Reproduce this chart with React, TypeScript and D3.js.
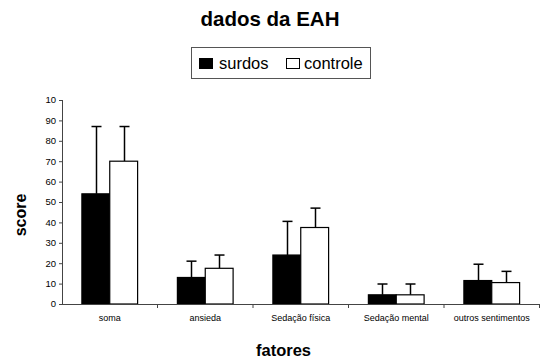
import React from 'react';
import * as d3 from 'd3';

const categories = ['soma', 'ansieda', 'Sedação física', 'Sedação mental', 'outros sentimentos'];
const seriesNames = ['surdos', 'controle'];
const surdos = [54, 13, 24, 4.5, 11.5];
const surdosErr = [33, 8, 16.5, 5.3, 8];
const controle = [70, 17.5, 37.5, 4.5, 10.5];
const controleErr = [17, 6.5, 9.5, 5.3, 5.5];
const yTicks = [0, 10, 20, 30, 40, 50, 60, 70, 80, 90, 100];
const yTickLabels = ['0', '10', '20', '30', '40', '50', '60', '70', '80', '90', '10'];

const W = 541;
const H = 363;
const margin = { left: 62, right: 0, top: 100, bottom: 59 };

const App = () => {
  const x0 = d3.scaleBand<string>()
    .domain(categories)
    .range([margin.left, 539.5])
    .paddingInner(0)
    .paddingOuter(0);
  // two bars per group, ~20px gap on each side
  const x1 = d3.scaleBand<string>()
    .domain(seriesNames)
    .range([0, x0.bandwidth()])
    .paddingOuter(0.714)
    .paddingInner(0);
  const y = d3.scaleLinear().domain([0, 100]).range([H - margin.bottom, margin.top]);

  const series = [
    { name: 'surdos', values: surdos, err: surdosErr, fill: '#000' },
    { name: 'controle', values: controle, err: controleErr, fill: '#fff' },
  ];

  const font = 'Arial, "Liberation Sans", sans-serif';
  const y0 = y(0);

  return (
    <svg width={W} height={H} style={{ position: 'absolute', left: 0, top: 0, background: '#fff' }} fontFamily={font}>
      <text x={270} y={26} textAnchor="middle" fontSize={20.5} fontWeight="bold">dados da EAH</text>

      {/* legend */}
      <rect x={191.5} y={47.5} width={179} height={31} fill="#fff" stroke="#555" strokeWidth={1} />
      <rect x={199.5} y={58.5} width={13} height={10} fill="#000" stroke="#000" />
      <text x={219} y={68.5} fontSize={16.5}>surdos</text>
      <rect x={286.5} y={58.5} width={13} height={10} fill="#fff" stroke="#000" />
      <text x={304} y={68.5} fontSize={16.5}>controle</text>

      {/* y axis */}
      <line x1={margin.left + 0.5} x2={margin.left + 0.5} y1={y(100)} y2={y0} stroke="#444" />
      {yTicks.map((t, i) => (
        <g key={t}>
          <line x1={margin.left - 3} x2={margin.left} y1={y(t) + 0.5} y2={y(t) + 0.5} stroke="#444" />
          <text x={56} y={y(t)} dy="0.35em" textAnchor="end" fontSize={9.5}>{yTickLabels[i]}</text>
        </g>
      ))}
      <text transform={`translate(26,215) rotate(-90)`} textAnchor="middle" fontSize={16} fontWeight="bold">score</text>

      {/* bars */}
      {series.map(s => (
        <g key={s.name}>
          {categories.map((c, i) => {
            const bx = (x0(c) as number) + (x1(s.name) as number);
            const bw = x1.bandwidth();
            const cx = Math.round(bx + bw / 2) + 0.5;
            const top = y(s.values[i]);
            const etop = y(s.values[i] + s.err[i]);
            return (
              <g key={c}>
                <line x1={cx} x2={cx} y1={etop} y2={top} stroke="#000" strokeWidth={1.5} />
                <line x1={cx - 5} x2={cx + 5} y1={etop} y2={etop} stroke="#000" strokeWidth={1.5} />
                <rect x={bx} y={top} width={bw} height={y0 - top} fill={s.fill} stroke="#000" strokeWidth={1.2} />
              </g>
            );
          })}
        </g>
      ))}

      {/* x axis */}
      <line x1={margin.left} x2={539.5} y1={y0 + 0.5} y2={y0 + 0.5} stroke="#444" />
      {categories.map((c, i) => (
        <g key={c}>
          <line x1={(x0(c) as number) + x0.bandwidth()} x2={(x0(c) as number) + x0.bandwidth()} y1={y0} y2={y0 + 4} stroke="#444" />
          <text x={(x0(c) as number) + x0.bandwidth() / 2} y={321} textAnchor="middle" fontSize={9}>{c}</text>
        </g>
      ))}
      <text x={283.5} y={356} textAnchor="middle" fontSize={16.5} fontWeight="bold">fatores</text>
    </svg>
  );
};

export default App;
